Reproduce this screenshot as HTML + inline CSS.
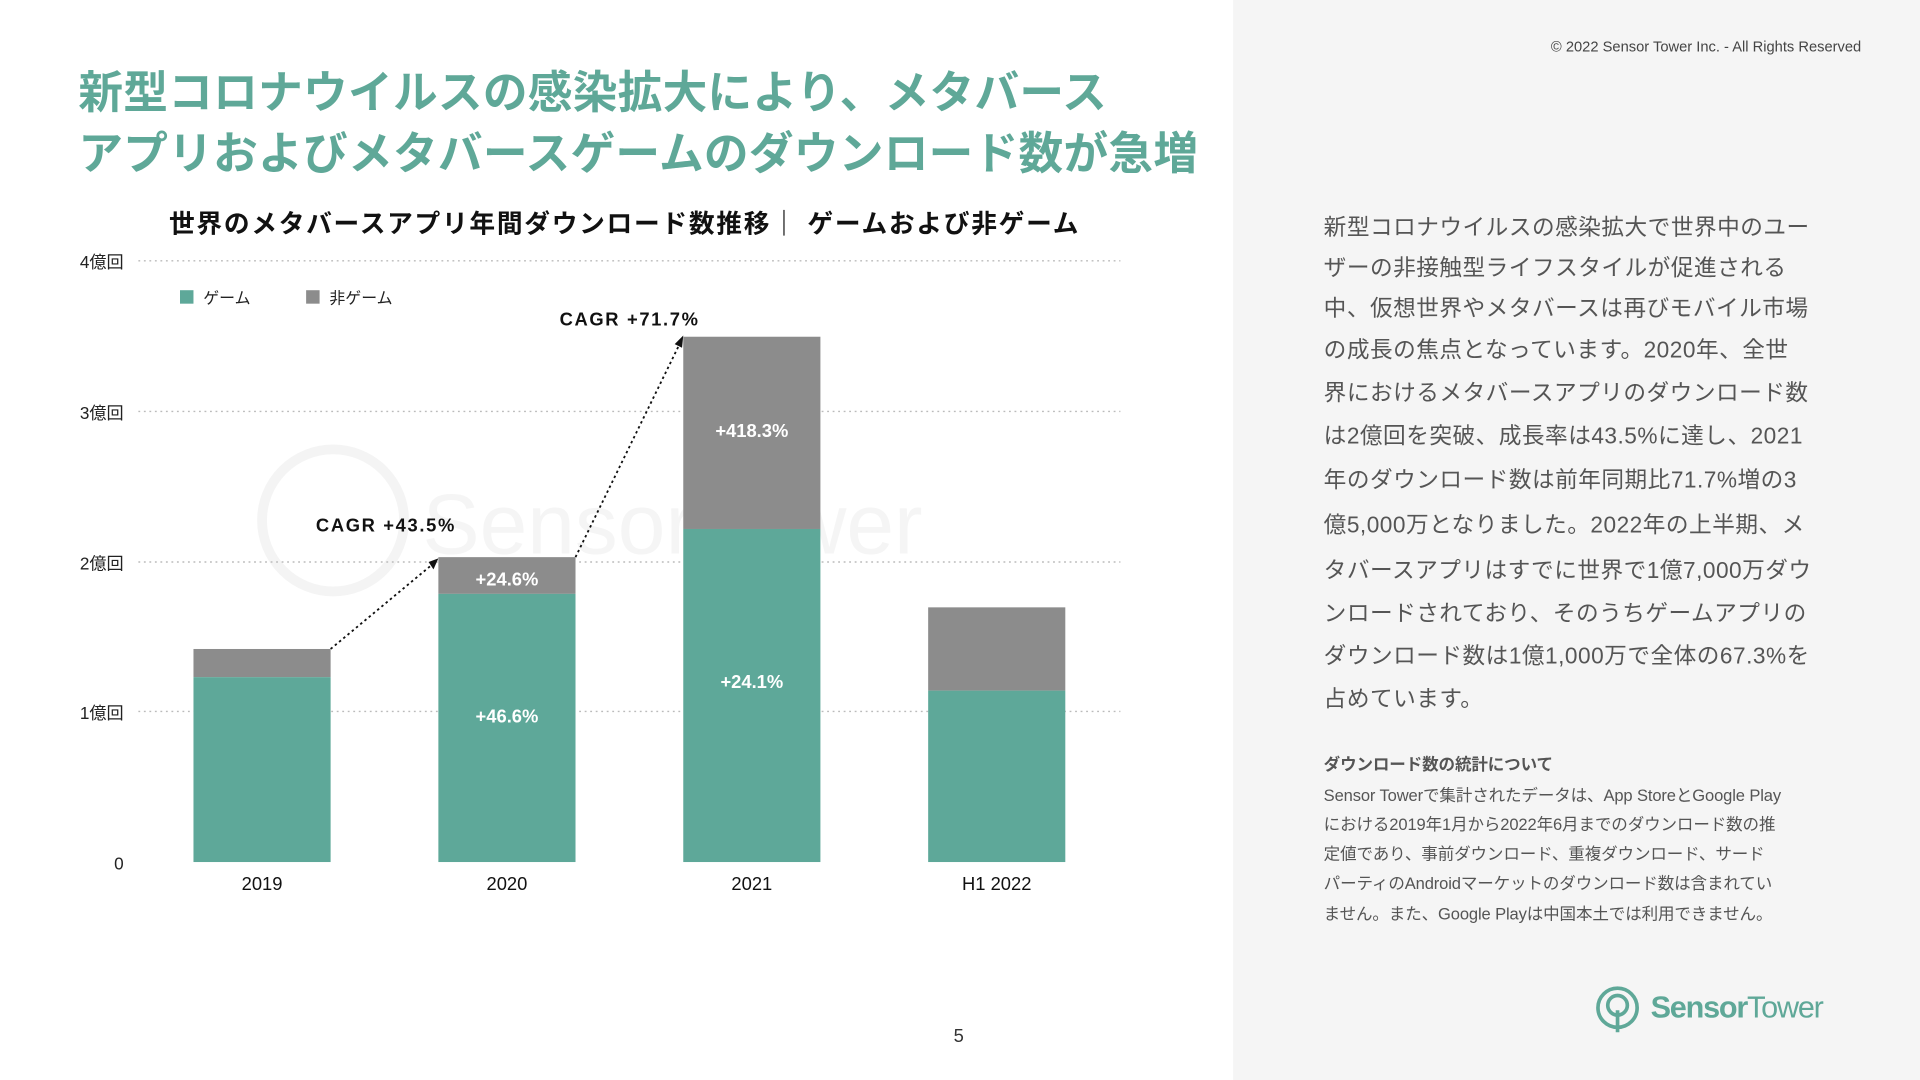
<!DOCTYPE html>
<html><head><meta charset="utf-8"><style>
html,body{margin:0;padding:0;width:1920px;height:1080px;overflow:hidden;background:#fff}
#w{position:absolute;left:0;top:0;width:1568px;height:882px;transform:scale(1.22449);transform-origin:0 0;font-family:"Liberation Sans","Noto Sans CJK JP",sans-serif}
.a{position:absolute;white-space:nowrap}
.rp{position:absolute;left:1007px;top:0;width:561px;height:882px;background:#f5f5f5}
.t{color:#5fa898;font-weight:bold;font-size:36.5px;left:64px;letter-spacing:0.2px}
.body{left:1081px;font-size:18.5px;color:#555;letter-spacing:0.4px}
.sm{left:1081px;font-size:13.5px;color:#555;letter-spacing:-0.1px}
</style></head><body><div id="w">
<div class="rp"></div>
<div class="a" style="right:48px;top:31px;font-size:12px;color:#444">© 2022 Sensor Tower Inc. - All Rights Reserved</div>
<div class="a t" style="top:46px">新型コロナウイルスの感染拡大により、メタバース</div>
<div class="a t" style="top:96px">アプリおよびメタバースゲームのダウンロード数が急増</div>
<div class="a" style="left:138px;top:167px;font-size:21px;font-weight:bold;color:#111;letter-spacing:1.4px">世界のメタバースアプリ年間ダウンロード数推移｜ ゲームおよび非ゲーム</div>
<svg class="a" style="left:0;top:0" width="1007" height="882">
<g fill="none" stroke="#f4f4f4" stroke-width="8"><circle cx="272" cy="425" r="58"/></g>
<text x="345" y="452" font-size="70" fill="#f5f5f5" font-family="Liberation Sans">SensorTower</text>
<g stroke="#bbb" stroke-dasharray="1.5,3" stroke-width="1.2">
<line x1="113" y1="213" x2="915" y2="213"/><line x1="113" y1="336" x2="915" y2="336"/><line x1="113" y1="459" x2="915" y2="459"/><line x1="113" y1="581" x2="915" y2="581"/></g>
<g font-size="14" fill="#222" text-anchor="end"><text x="101" y="219">4億回</text><text x="101" y="342">3億回</text><text x="101" y="465">2億回</text><text x="101" y="587">1億回</text><text x="101" y="710">0</text></g>
<rect x="158" y="530" width="112" height="23" fill="#8c8c8c"/><rect x="158" y="553" width="112" height="151" fill="#5ea899"/>
<rect x="358" y="455" width="112" height="30" fill="#8c8c8c"/><rect x="358" y="485" width="112" height="219" fill="#5ea899"/>
<rect x="558" y="275" width="112" height="157" fill="#8c8c8c"/><rect x="558" y="432" width="112" height="272" fill="#5ea899"/>
<rect x="758" y="496" width="112" height="68" fill="#8c8c8c"/><rect x="758" y="564" width="112" height="140" fill="#5ea899"/>
<g font-size="15" fill="#111" text-anchor="middle"><text x="214" y="727">2019</text><text x="414" y="727">2020</text><text x="614" y="727">2021</text><text x="814" y="727">H1 2022</text></g>
<g font-size="15" font-weight="bold" fill="#fff" text-anchor="middle"><text x="414" y="478">+24.6%</text><text x="414" y="590">+46.6%</text><text x="614" y="357">+418.3%</text><text x="614" y="562">+24.1%</text></g>
<g stroke="#111" stroke-dasharray="2,2.5" stroke-width="1.5"><line x1="270" y1="530" x2="353" y2="461"/><line x1="470" y1="455" x2="555" y2="281"/></g>
<polygon points="358,456 350,459 354,465" fill="#111"/><polygon points="558,274 551,281 557,284" fill="#111"/>
<g font-size="15" font-weight="bold" fill="#111"><text x="258" y="434" textLength="113">CAGR +43.5%</text><text x="457" y="266" textLength="113">CAGR +71.7%</text></g>
<rect x="147" y="237" width="11" height="11" fill="#5ea899"/><text x="166" y="248" font-size="13" fill="#222">ゲーム</text>
<rect x="250" y="237" width="11" height="11" fill="#8c8c8c"/><text x="269" y="248" font-size="13" fill="#222">非ゲーム</text>
<text x="783" y="851" font-size="15" fill="#333" text-anchor="middle">5</text>
</svg>
<div class="a body" style="top:172px">新型コロナウイルスの感染拡大で世界中のユー</div>
<div class="a body" style="top:205px">ザーの非接触型ライフスタイルが促進される</div>
<div class="a body" style="top:238px">中、仮想世界やメタバースは再びモバイル市場</div>
<div class="a body" style="top:272px">の成長の焦点となっています。2020年、全世</div>
<div class="a body" style="top:307px">界におけるメタバースアプリのダウンロード数</div>
<div class="a body" style="top:342px">は2億回を突破、成長率は43.5%に達し、2021</div>
<div class="a body" style="top:378px">年のダウンロード数は前年同期比71.7%増の3</div>
<div class="a body" style="top:415px">億5,000万となりました。2022年の上半期、メ</div>
<div class="a body" style="top:452px">タバースアプリはすでに世界で1億7,000万ダウ</div>
<div class="a body" style="top:487px">ンロードされており、そのうちゲームアプリの</div>
<div class="a body" style="top:522px">ダウンロード数は1億1,000万で全体の67.3%を</div>
<div class="a body" style="top:557px">占めています。</div>
<div class="a sm" style="top:613px;font-weight:bold">ダウンロード数の統計について</div>
<div class="a sm" style="top:638px">Sensor Towerで集計されたデータは、App StoreとGoogle Play</div>
<div class="a sm" style="top:662px">における2019年1月から2022年6月までのダウンロード数の推</div>
<div class="a sm" style="top:686px">定値であり、事前ダウンロード、重複ダウンロード、サード</div>
<div class="a sm" style="top:710px">パーティのAndroidマーケットのダウンロード数は含まれてい</div>
<div class="a sm" style="top:735px">ません。また、Google Playは中国本土では利用できません。</div>
<svg class="a" style="left:1300px;top:803px" width="42" height="42"><circle cx="21" cy="20" r="16" fill="none" stroke="#5fa898" stroke-width="3"/><circle cx="21" cy="18" r="8" fill="none" stroke="#5fa898" stroke-width="3"/><line x1="21" y1="22" x2="21" y2="40" stroke="#5fa898" stroke-width="3"/></svg>
<div class="a" style="left:1348px;top:809px;font-size:25px;font-weight:bold;color:#5fa898;letter-spacing:-1px">Sensor<span style="font-weight:normal">Tower</span></div>
</div></body></html>
